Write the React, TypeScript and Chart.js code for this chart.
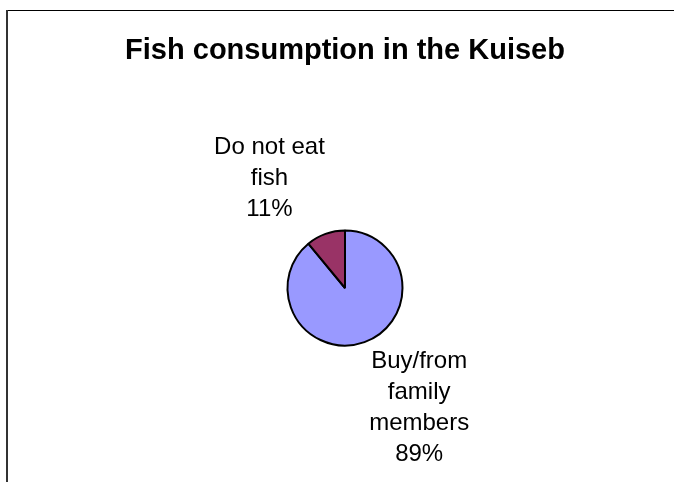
import React, { useEffect, useRef } from "react";
import { Chart, registerables } from "chart.js";

Chart.register(...registerables);

const chartTitle = "Fish consumption in the Kuiseb";
const categories: string[][] = [["Buy/from", "family", "members"], ["Do not eat", "fish"]];
const values: number[] = [89, 11];
const colors: string[] = ["#9999FF", "#993366"];

const FONT = '"Liberation Sans", Arial, sans-serif';
const labelPad = [
  { x: 4, y: 2 },
  { x: 0, y: 7 },
];

const excelPlugin = {
  id: "excelDecor",
  afterDraw(chart: any) {
    const ctx: CanvasRenderingContext2D = chart.ctx;
    const meta = chart.getDatasetMeta(0);
    const total = values.reduce((a, b) => a + b, 0);
    ctx.save();
    // chart frame (partly cropped)
    ctx.strokeStyle = "#000";
    ctx.lineWidth = 1;
    ctx.beginPath();
    ctx.moveTo(6, 10.5);
    ctx.lineTo(chart.width, 10.5);
    ctx.stroke();
    ctx.strokeStyle = "#333";
    ctx.lineWidth = 2;
    ctx.beginPath();
    ctx.moveTo(7, 10);
    ctx.lineTo(7, chart.height);
    ctx.stroke();

    const first = meta.data[0];
    // title
    ctx.fillStyle = "#000";
    ctx.font = `bold 29px ${FONT}`;
    ctx.textAlign = "center";
    ctx.textBaseline = "alphabetic";
    ctx.fillText(chartTitle, first.x, 59);

    // data labels
    ctx.font = `24px ${FONT}`;
    ctx.textBaseline = "middle";
    const lh = 31;
    const gap = 2;
    meta.data.forEach((arc: any, i: number) => {
      const p = arc.getProps(["x", "y", "startAngle", "endAngle", "outerRadius"], true);
      const mid = (p.startAngle + p.endAngle) / 2;
      const dx = Math.cos(mid);
      const dy = Math.sin(mid);
      const ax = p.x + dx * (p.outerRadius + gap);
      const ay = p.y + dy * (p.outerRadius + gap);
      const lines = [...categories[i], Math.round((values[i] / total) * 100) + "%"];
      const w = Math.max(...lines.map((l) => ctx.measureText(l).width));
      const h = lines.length * lh;
      const cx = ax + Math.sign(dx) * (w / 2 + labelPad[i].x);
      const cy = ay + Math.sign(dy) * (h / 2 + labelPad[i].y);
      lines.forEach((l, k) => {
        ctx.fillText(l, cx, cy - h / 2 + lh * (k + 0.5));
      });
    });
    ctx.restore();
  },
};

export default function App() {
  const ref = useRef<HTMLCanvasElement | null>(null);
  useEffect(() => {
    if (!ref.current) return;
    const chart = new Chart(ref.current, {
      type: "pie",
      data: {
        labels: categories.map((c) => c.join(" ")),
        datasets: [
          {
            data: values,
            backgroundColor: colors,
            borderColor: "#000",
            borderWidth: 2,
          },
        ],
      },
      options: {
        responsive: false,
        animation: false,
        layout: { padding: { top: 229.5, left: 286.5, right: 270.5, bottom: 135.5 } },
        plugins: {
          legend: { display: false },
          tooltip: { enabled: false },
          title: { display: false },
        },
      },
      plugins: [excelPlugin],
    });
    return () => chart.destroy();
  }, []);
  return (
    <div style={{ position: "fixed", left: 0, top: 0, width: 674, height: 482, background: "#fff" }}>
      <canvas ref={ref} width={674} height={482} />
    </div>
  );
}
